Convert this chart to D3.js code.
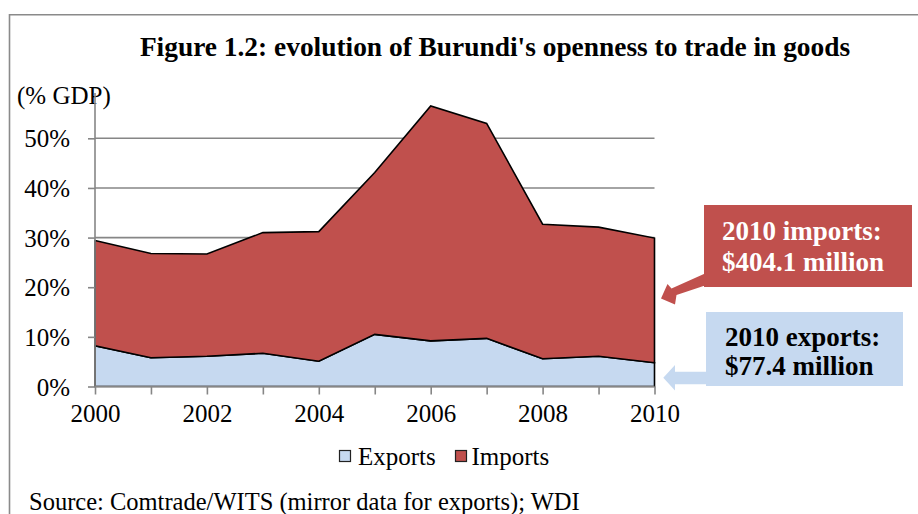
<!DOCTYPE html>
<html>
<head>
<meta charset="utf-8">
<script src="https://cdn.jsdelivr.net/npm/d3@7"></script>
<style>
  html, body { margin: 0; padding: 0; background: #fff; }
  svg { display: block; font-family: "Liberation Serif", "Times New Roman", serif; }
</style>
</head>
<body>
<svg id="chart" width="918" height="514"></svg>
<script>
// ---- data ----
const years = [2000, 2001, 2002, 2003, 2004, 2005, 2006, 2007, 2008, 2009, 2010];
const exportsPct = [8.2, 5.8, 6.1, 6.7, 5.1, 10.5, 9.2, 9.7, 5.6, 6.1, 4.8];
const importsPct = [21.2, 21.0, 20.6, 24.3, 26.1, 32.6, 47.3, 43.3, 27.1, 26.0, 25.1];
const yTicks = [0, 0.1, 0.2, 0.3, 0.4, 0.5];
const xLabelYears = [2000, 2002, 2004, 2006, 2008, 2010];
const seriesNames = ["Exports", "Imports"];
const seriesColors = ["#C6D9F0", "#C0504D"];
const titleText = "Figure 1.2: evolution of Burundi's openness to trade in goods";
const unitText = "(% GDP)";
const sourceText = "Source: Comtrade/WITS (mirror data for exports); WDI";
const importsNote = ["2010 imports:", "$404.1 million"];
const exportsNote = ["2010 exports:", "$77.4 million"];

// ---- build ----
const svg = d3.select("#chart");
const rows = years.map((yr, i) => ({ year: yr, Exports: exportsPct[i] / 100, Imports: importsPct[i] / 100 }));
const stacked = d3.stack().keys(seriesNames)(rows);

const x = d3.scaleLinear().domain([2000, 2010]).range([95, 654.5]);
const y = d3.scaleLinear().domain([0, 0.5]).range([386.5, 138.3]);
const gridColor = "#868686";

// outer frame
svg.append("path")
  .attr("d", "M9.5,620 V14.75 H940")
  .attr("fill", "none").attr("stroke", "#8a8a8a").attr("stroke-width", 1.6);

// title
svg.append("text").attr("x", 495).attr("y", 56).attr("text-anchor", "middle")
  .attr("font-size", 27.4).attr("font-weight", "bold").attr("fill", "#000").text(titleText);

// unit label
svg.append("text").attr("x", 17).attr("y", 103.5).attr("font-size", 25).attr("fill", "#000").text(unitText);

// gridlines
svg.append("g").selectAll("line").data(yTicks.filter(d => d > 0)).join("line")
  .attr("x1", x(2000)).attr("x2", x(2010))
  .attr("y1", d => y(d)).attr("y2", d => y(d))
  .attr("stroke", gridColor).attr("stroke-width", 1.6);

// areas
const area = d3.area().x(d => x(d.data.year)).y0(d => y(d[0])).y1(d => y(d[1]));
svg.append("g").selectAll("path").data(stacked).join("path")
  .attr("d", area)
  .attr("fill", (d, i) => seriesColors[i])
  .attr("stroke", "#000").attr("stroke-width", 1.6).attr("stroke-linejoin", "miter");

// y axis
const yAxis = d3.axisLeft(y).tickValues(yTicks).tickSize(7).tickFormat(d3.format(".0%"));
const gy = svg.append("g").attr("transform", `translate(${x(2000)},0)`).call(yAxis);
gy.select(".domain").remove();
gy.append("line").attr("x1", 0).attr("x2", 0).attr("y1", y(0)).attr("y2", 93)
  .attr("stroke", gridColor).attr("stroke-width", 1.6);
gy.selectAll(".tick line").attr("stroke", gridColor).attr("stroke-width", 1.6);
gy.selectAll(".tick text").attr("x", -25).attr("dy", "0.34em")
  .attr("font-size", 25).attr("fill", "#000")
  .attr("font-family", "Liberation Serif, Times New Roman, serif");

// x axis
const xAxis = d3.axisBottom(x).tickValues(years).tickSize(8)
  .tickFormat(d => xLabelYears.includes(d) ? String(d) : "");
const gx = svg.append("g").attr("transform", `translate(0,${y(0)})`).call(xAxis);
gx.select(".domain").remove();
gx.append("line").attr("x1", x(2000)).attr("x2", x(2010)).attr("y1", 0).attr("y2", 0)
  .attr("stroke", gridColor).attr("stroke-width", 1.6);
gx.selectAll(".tick line").attr("stroke", gridColor).attr("stroke-width", 1.6);
gx.selectAll(".tick text").attr("y", 18).attr("dy", "0.71em")
  .attr("font-size", 25).attr("fill", "#000")
  .attr("font-family", "Liberation Serif, Times New Roman, serif");

// legend
const legend = svg.append("g");
const legendItems = [{ name: seriesNames[0], color: seriesColors[0], sx: 339.5, tx: 358 },
                     { name: seriesNames[1], color: seriesColors[1], sx: 455.5, tx: 471.5 }];
legendItems.forEach(it => {
  legend.append("rect").attr("x", it.sx).attr("y", 450.5).attr("width", 11).attr("height", 11)
    .attr("fill", it.color).attr("stroke", "#222").attr("stroke-width", 1.2);
  legend.append("text").attr("x", it.tx).attr("y", 465).attr("font-size", 25).attr("fill", "#000").text(it.name);
});

// source
svg.append("text").attr("x", 29).attr("y", 510).attr("font-size", 24.5).attr("fill", "#000").text(sourceText);

// imports annotation
svg.append("rect").attr("x", 704).attr("y", 205).attr("width", 208).attr("height", 82).attr("fill", seriesColors[1]);
svg.append("polygon")
  .attr("points", "661,298.5 667.5,284 671.5,288.5 705,273.5 705,285.5 676.5,295 675,304.5")
  .attr("fill", seriesColors[1]);
svg.append("text").attr("x", 722).attr("y", 240).attr("font-size", 27).attr("font-weight", "bold")
  .attr("fill", "#fff").text(importsNote[0]);
svg.append("text").attr("x", 722).attr("y", 271).attr("font-size", 27).attr("font-weight", "bold")
  .attr("fill", "#fff").text(importsNote[1]);

// exports annotation
svg.append("rect").attr("x", 706).attr("y", 312).attr("width", 197).attr("height", 74).attr("fill", seriesColors[0]);
svg.append("polygon")
  .attr("points", "663.3,377.8 675,365 675,371.7 707,371.7 707,384.3 675,384.3 675,390.5")
  .attr("fill", seriesColors[0]);
svg.append("text").attr("x", 725).attr("y", 346).attr("font-size", 27).attr("font-weight", "bold")
  .attr("fill", "#000").text(exportsNote[0]);
svg.append("text").attr("x", 725).attr("y", 375).attr("font-size", 27).attr("font-weight", "bold")
  .attr("fill", "#000").text(exportsNote[1]);
</script>
</body>
</html>
